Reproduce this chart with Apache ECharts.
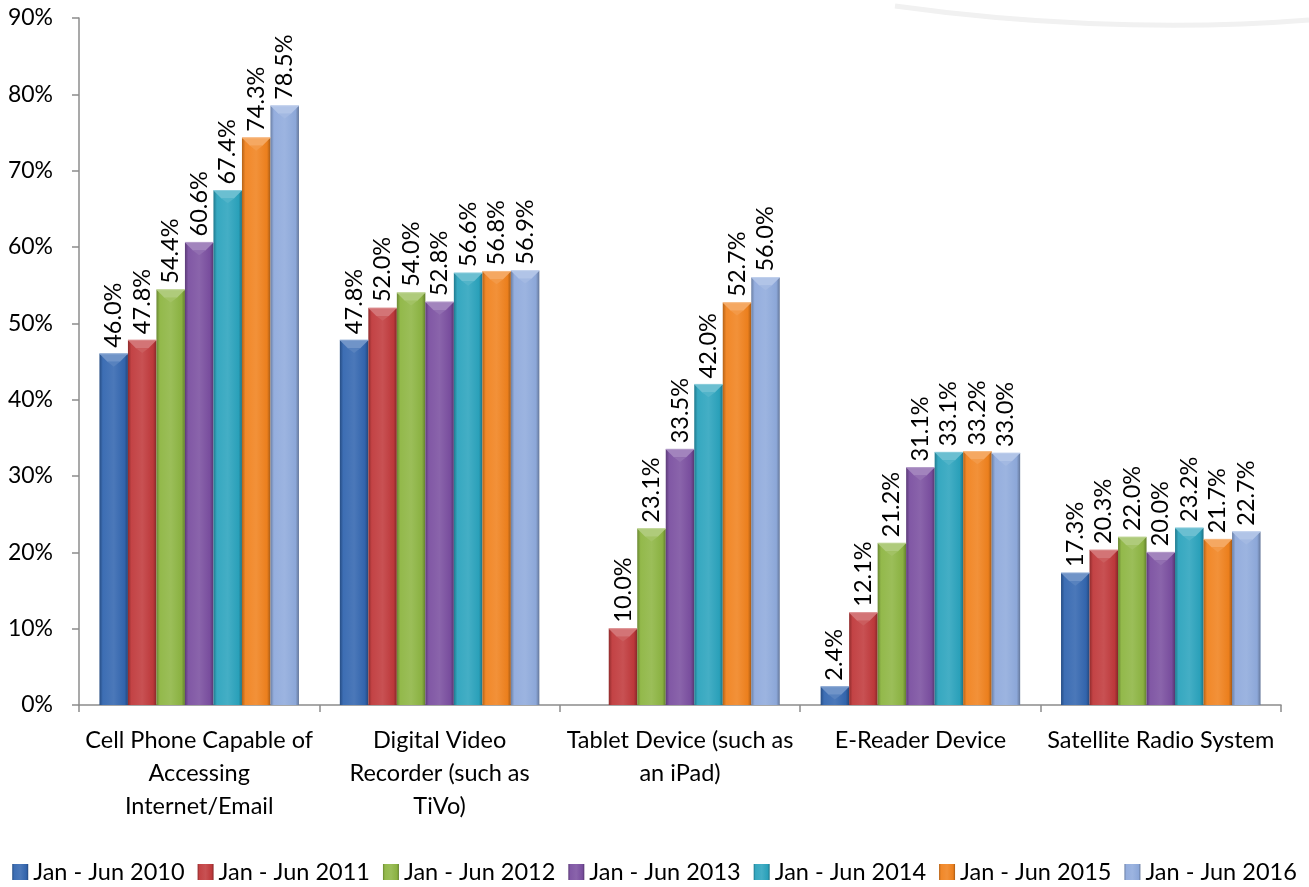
<!DOCTYPE html>
<html>
<head>
<meta charset="utf-8">
<script src="https://cdn.jsdelivr.net/npm/echarts@6/dist/echarts.min.js"></script>
<style>
  html, body { margin: 0; padding: 0; background: #ffffff; }
  #chart { width: 1309px; height: 887px; }
</style>
</head>
<body>
<div id="chart"></div>
<script>
// Device ownership by survey period (% of respondents)
const categories = [
  'Cell Phone Capable of\nAccessing\nInternet/Email',
  'Digital Video\nRecorder (such as\nTiVo)',
  'Tablet Device (such as\nan iPad)',
  'E-Reader Device',
  'Satellite Radio System'
];
const seriesNames = [
  'Jan - Jun 2010', 'Jan - Jun 2011', 'Jan - Jun 2012', 'Jan - Jun 2013',
  'Jan - Jun 2014', 'Jan - Jun 2015', 'Jan - Jun 2016'
];
const jun2010 = [46.0, 47.8, null, 2.4, 17.3];
const jun2011 = [47.8, 52.0, 10.0, 12.1, 20.3];
const jun2012 = [54.4, 54.0, 23.1, 21.2, 22.0];
const jun2013 = [60.6, 52.8, 33.5, 31.1, 20.0];
const jun2014 = [67.4, 56.6, 42.0, 33.1, 23.2];
const jun2015 = [74.3, 56.8, 52.7, 33.2, 21.7];
const jun2016 = [78.5, 56.9, 56.0, 33.0, 22.7];
const seriesValues = [jun2010, jun2011, jun2012, jun2013, jun2014, jun2015, jun2016];
const yTicks = [0, 10, 20, 30, 40, 50, 60, 70, 80, 90];

const baseColors = ['#3366b0', '#c0393b', '#8db542', '#7a4fa0', '#2ba3bd', '#f0821e', '#8faadc'];

function shade(hex, amt) {
  const n = parseInt(hex.slice(1), 16);
  let r = (n >> 16) & 255, g = (n >> 8) & 255, b = n & 255;
  const f = c => amt >= 0 ? Math.round(c + (255 - c) * amt) : Math.round(c * (1 + amt));
  return 'rgb(' + f(r) + ',' + f(g) + ',' + f(b) + ')';
}

function bevelFill(c) {
  return new echarts.graphic.LinearGradient(0, 0, 1, 0, [
    { offset: 0, color: shade(c, -0.25) },
    { offset: 0.12, color: shade(c, 0.05) },
    { offset: 0.5, color: shade(c, 0.12) },
    { offset: 0.88, color: shade(c, -0.02) },
    { offset: 1, color: shade(c, -0.3) }
  ]);
}

const FONT = 'Lato, "Liberation Sans", sans-serif';
const CAT_GAP = 0.17;
const nSeries = seriesNames.length;

const series = [];
seriesValues.forEach((vals, si) => {
  const c = baseColors[si];
  series.push({
    name: seriesNames[si],
    type: 'bar',
    data: vals,
    barGap: '0%',
    barCategoryGap: (CAT_GAP * 100) + '%',
    itemStyle: { color: bevelFill(c) },
    label: {
      show: true,
      position: 'top',
      rotate: 90,
      align: 'left',
      verticalAlign: 'middle',
      distance: 6,
      fontFamily: FONT,
      fontSize: 23.5,
      color: '#000',
      formatter: p => p.value == null ? '' : p.value.toFixed(1) + '%'
    },
    emphasis: { disabled: true }
  });
});

// Bevelled caps drawn over each bar, placed with the category axis geometry
seriesValues.forEach((vals, si) => {
  const c = baseColors[si];
  series.push({
    type: 'custom',
    silent: true,
    z: 5,
    data: vals.map((v, i) => [i, v]),
    renderItem: (params, api) => {
      const v = api.value(1);
      if (v == null || isNaN(v)) return null;
      const top = api.coord([api.value(0), v]);
      const base = api.coord([api.value(0), 0]);
      const catW = api.size([1, 0])[0];
      const used = catW * (1 - CAT_GAP);
      const bw = used / nSeries;
      const x0 = top[0] - used / 2 + si * bw;
      const x1 = x0 + bw;
      const yT = top[1];
      const d = Math.min(8, (base[1] - yT) / 2);
      return {
        type: 'group',
        children: [
          {
            type: 'polygon',
            shape: { points: [[x0, yT], [x1, yT], [x1 - d, yT + d], [x0 + d, yT + d]] },
            style: { fill: shade(c, 0.3) }
          },
          {
            type: 'polygon',
            shape: { points: [[x0 + d, yT + d], [x1 - d, yT + d], [(x0 + x1) / 2, yT + d * 1.6]] },
            style: { fill: shade(c, 0.18) }
          },
          {
            type: 'line',
            shape: { x1: x0, y1: yT, x2: x1, y2: yT },
            style: { stroke: shade(c, 0.45), lineWidth: 1 }
          }
        ]
      };
    }
  });
});

const chart = echarts.init(document.getElementById('chart'), null, { renderer: 'canvas' });
chart.setOption({
  animation: false,
  backgroundColor: '#ffffff',
  graphic: [{
    type: 'bezierCurve',
    silent: true,
    z: -1,
    shape: { x1: 895, y1: 6, cpx1: 1010, cpy1: 22, cpx2: 1160, cpy2: 32, x2: 1309, y2: 20 },
    style: { stroke: '#f1f1f1', lineWidth: 5, fill: null }
  }],
  grid: { left: 79, right: 28, top: 18, bottom: 182, containLabel: false },
  legend: {
    data: seriesNames.map((n, i) => ({
      name: n,
      icon: 'rect',
      itemStyle: { color: bevelFill(baseColors[i]) }
    })),
    top: 855,
    left: 'center',
    itemWidth: 16,
    itemHeight: 16,
    itemGap: 13,
    textStyle: { fontFamily: FONT, fontSize: 23.5, color: '#000' }
  },
  xAxis: {
    type: 'category',
    data: categories,
    axisLine: { lineStyle: { color: '#8c8c8c', width: 1.5 } },
    axisTick: { show: true, length: 7, alignWithLabel: false, lineStyle: { color: '#8c8c8c', width: 1.5 } },
    axisLabel: {
      interval: 0,
      margin: 19,
      fontFamily: FONT,
      fontSize: 23.5,
      lineHeight: 33,
      color: '#000',
      align: 'center'
    }
  },
  yAxis: {
    type: 'value',
    min: yTicks[0],
    max: yTicks[yTicks.length - 1],
    interval: 10,
    splitLine: { show: false },
    axisLine: { show: true, lineStyle: { color: '#8c8c8c', width: 1.5 } },
    axisTick: { show: true, length: 7, lineStyle: { color: '#8c8c8c', width: 1.5 } },
    axisLabel: {
      margin: 26,
      fontFamily: FONT,
      fontSize: 23,
      color: '#000',
      formatter: '{value}%'
    }
  },
  series: series
});
</script>
</body>
</html>
